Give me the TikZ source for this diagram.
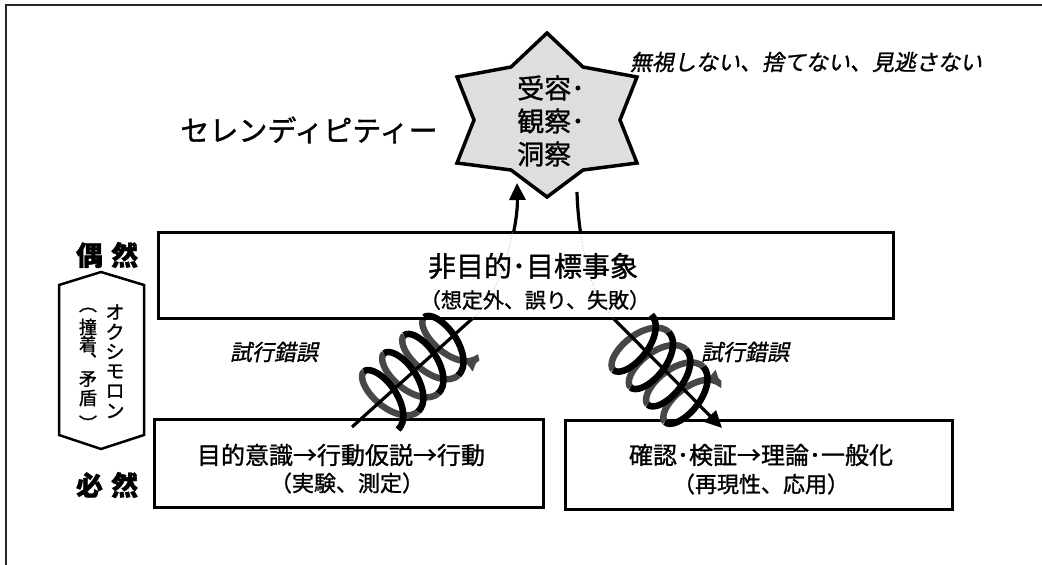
\documentclass[tikz,border=0pt]{standalone}
\usepackage{fontspec}
\setmainfont{Noto Sans CJK JP}[FakeBold=1.1,AutoFakeSlant=0.2]
\usetikzlibrary{arrows.meta}
\def\hR{33}
\def\hE{17}
\newcommand{\helixpart}[9]{%
 \pgfmathsetmacro\hpa{#5/(360*#6)}%
 \pgfmathtruncatemacro\hlast{2*#6-1}%
 \foreach \k in {0,...,\hlast}{%
   \pgfmathtruncatemacro\kpar{mod(\k,2)}%
   \ifnum\kpar=#7\relax
     \pgfmathsetmacro\ta{180*\k}%
     \pgfmathsetmacro\tb{180*\k+180}%
     \ifnum\k=\hlast\relax
       \draw[#8,-{Triangle[length=13pt,width=15pt]}] plot[smooth,domain=\ta:\tb,samples=18,variable=\t]
         ({#1+(\hpa*\t+\hE*sin(\t))*(#3)-(#9)*\hR*cos(\t)*(#4)},{#2+(\hpa*\t+\hE*sin(\t))*(#4)+(#9)*\hR*cos(\t)*(#3)});
     \else
       \draw[#8] plot[smooth,domain=\ta:\tb,samples=18,variable=\t]
         ({#1+(\hpa*\t+\hE*sin(\t))*(#3)-(#9)*\hR*cos(\t)*(#4)},{#2+(\hpa*\t+\hE*sin(\t))*(#4)+(#9)*\hR*cos(\t)*(#3)});
     \fi
   \fi
 }%
}
\begin{document}
\begin{tikzpicture}[x=1pt,y=-1pt,
  boxst/.style={draw=black, line width=3pt, fill=white, inner sep=0pt},
  arrline/.style={line width=3.2pt, black},
  hiddenline/.style={line width=0.8pt, black!30, dotted},
  frontrib/.style={line width=6.5pt, black},
  backrib/.style={line width=6.5pt, black!72},
  lbl/.style={inner sep=0pt, anchor=center}]
\useasboundingbox (0,0) rectangle (1042,565);
\draw[line width=2pt, black!85] (6,565) -- (6,5) -- (1042,5);

% star
\draw[line width=3.5pt, line join=miter, fill=black!13]
  (547,33) -- (583,67) -- (637,77) -- (620,120) -- (637,163) -- (583,170) -- (547,197)
  -- (511,170) -- (457,163) -- (474,120) -- (457,77) -- (511,67) -- cycle;
\node[lbl, anchor=west, align=left, font=\fontsize{27}{33}\selectfont] (startext) at (517,121) {受容･\\観察･\\洞察};
\coordinate (lstar) at (517,183);
\coordinate (rstar) at (577,192);

% bottom boxes
\node[boxst, minimum width=389pt, minimum height=88pt] (lbox) at (348.5,463) {};
\node[boxst, minimum width=387pt, minimum height=89pt] (rbox) at (758.5,464.5) {};
\coordinate (la) at (352,427);
\coordinate (lb) at (473,318);
\coordinate (ra) at (613,318);
\coordinate (rb) at (722,428);

% helix back parts
\helixpart{376}{405}{0.743}{-0.669}{108}{4}{1}{backrib}{1}
\helixpart{628}{338}{0.705}{0.709}{98}{4}{1}{backrib}{-1}

% arrows
\draw[arrline, -{Triangle[length=17pt,width=16pt]}] (la) -- (lb) .. controls (503,291) and (518,226) .. (lstar);
\draw[arrline, -{Triangle[length=17pt,width=16pt]}] (rstar) .. controls (578,232) and (588,294) .. (ra) -- (rb);

% main box
\node[boxst, minimum width=735pt, minimum height=86pt] (mbox) at (525.5,275) {};
\begin{scope}
\clip (158,232) rectangle (893,318);
\draw[hiddenline] (la) -- (lb) .. controls (503,291) and (518,226) .. (lstar);
\draw[hiddenline] (rstar) .. controls (578,232) and (588,294) .. (ra) -- (rb);
\end{scope}

% helix front parts
\helixpart{376}{405}{0.743}{-0.669}{108}{4}{0}{frontrib}{1}
\helixpart{628}{338}{0.705}{0.709}{98}{4}{0}{frontrib}{-1}

% texts
\node[lbl, font=\fontsize{29}{29}\selectfont] (seren) at (309,130) {セレンディピティー};
\node[lbl, font=\fontsize{22}{22}\selectfont\itshape] (mushi) at (806,62) {無視しない、捨てない、見逃さない};
\node[lbl, font=\fontsize{27}{27}\selectfont\bfseries] (guzen) at (107,255) {偶\hspace{8pt}然};
\node[lbl, font=\fontsize{27}{27}\selectfont\bfseries] (hitsuzen) at (107,485) {必\hspace{8pt}然};
\node[lbl, font=\fontsize{28}{28}\selectfont] (m1) at (533,266) {非目的･目標事象};
\node[lbl, font=\fontsize{21}{21}\selectfont] (m2) at (535,300) {（想定外、誤り、失敗）};
\node[lbl, font=\fontsize{24}{24}\selectfont] (l1) at (341,455) {目的意識→行動仮説→行動};
\node[lbl, font=\fontsize{22}{22}\selectfont] (l2) at (347,483) {（実験、測定）};
\node[lbl, font=\fontsize{24}{24}\selectfont] (r1) at (761,455) {確認･検証→理論･一般化};
\node[lbl, font=\fontsize{22}{22}\selectfont] (r2) at (761,484) {（再現性、応用）};
\node[lbl, font=\fontsize{22}{22}\selectfont\itshape] (tl) at (274,352) {試行錯誤};
\node[lbl, font=\fontsize{22}{22}\selectfont\itshape] (tr) at (745,352) {試行錯誤};

% oxymoron hexagon
\draw[line width=2.5pt, line join=miter] (101,272) -- (144,285) -- (144,435) -- (101,449) -- (59,435) -- (59,285) -- cycle;
\foreach \c [count=\i] in {オ,ク,シ,モ,ロ,ン}
  \node[lbl, font=\fontsize{19}{19}\selectfont] (oxy\i) at (115,{312+19.8*(\i-1)}) {\c};
\foreach \c/\yy [count=\i] in {︵/310,撞/327,着/344,︑/360,矛/379,盾/398,︶/423}
  \node[lbl, font=\fontsize{18}{18}\selectfont] (doch\i) at (88,\yy) {\c};
\end{tikzpicture}
\end{document}
